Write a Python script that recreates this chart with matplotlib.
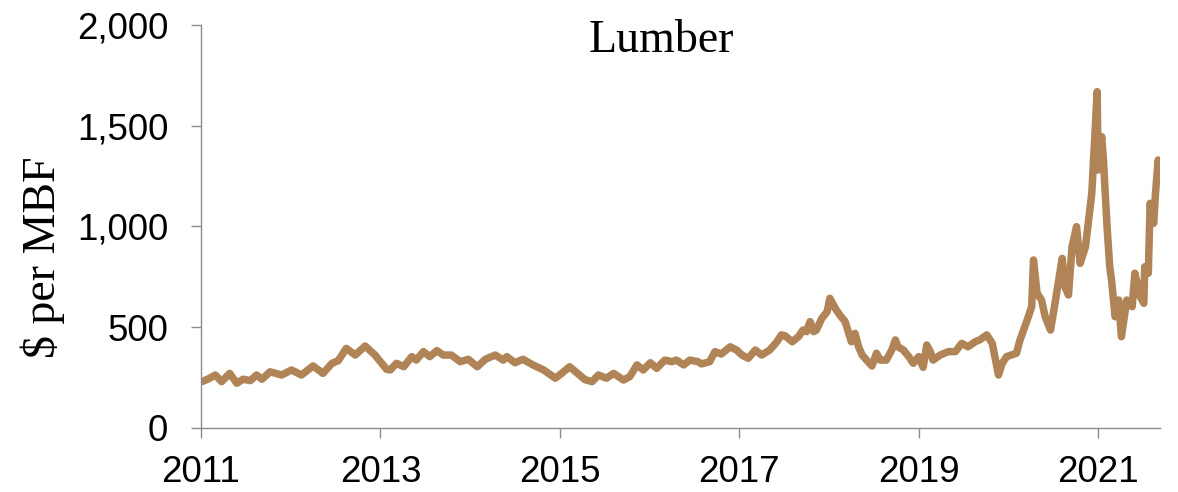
import matplotlib.pyplot as plt
from matplotlib.ticker import FuncFormatter, FixedLocator

# Lumber price, $ per MBF (x in the chart's year units)
years = [
    2011.01, 2011.08, 2011.16, 2011.23, 2011.32, 2011.40, 2011.47, 2011.55, 2011.62, 2011.68,
    2011.77, 2011.90, 2012.01, 2012.12, 2012.25, 2012.36, 2012.46, 2012.53, 2012.62, 2012.72,
    2012.83, 2012.94, 2013.07, 2013.11, 2013.18, 2013.26, 2013.35, 2013.40, 2013.48, 2013.55,
    2013.63, 2013.70, 2013.79, 2013.89, 2013.98, 2014.08, 2014.17, 2014.28, 2014.37, 2014.41,
    2014.50, 2014.59, 2014.70, 2014.82, 2014.95, 2015.02, 2015.11, 2015.19, 2015.28, 2015.36,
    2015.43, 2015.52, 2015.60, 2015.71, 2015.78, 2015.86, 2015.93, 2016.01, 2016.08, 2016.17,
    2016.25, 2016.30, 2016.38, 2016.45, 2016.54, 2016.58, 2016.67, 2016.73, 2016.80, 2016.90,
    2016.97, 2017.03, 2017.10, 2017.18, 2017.25, 2017.34, 2017.42, 2017.47, 2017.51, 2017.59,
    2017.66, 2017.71, 2017.75, 2017.79, 2017.83, 2017.86, 2017.92, 2017.98, 2018.01, 2018.07,
    2018.12, 2018.18, 2018.22, 2018.25, 2018.29, 2018.33, 2018.37, 2018.42, 2018.48, 2018.53,
    2018.57, 2018.64, 2018.70, 2018.74, 2018.77, 2018.83, 2018.89, 2018.94, 2019.00, 2019.05,
    2019.09, 2019.13, 2019.16, 2019.24, 2019.33, 2019.41, 2019.48, 2019.55, 2019.63, 2019.68,
    2019.76, 2019.82, 2019.89, 2019.93, 2019.98, 2020.09, 2020.13, 2020.21, 2020.26, 2020.28,
    2020.32, 2020.37, 2020.41, 2020.47, 2020.52, 2020.60, 2020.63, 2020.67, 2020.71, 2020.76,
    2020.80, 2020.86, 2020.89, 2020.93, 2020.95, 2020.99, 2021.00, 2021.04, 2021.06, 2021.10,
    2021.13, 2021.15, 2021.19, 2021.23, 2021.26, 2021.32, 2021.38, 2021.41, 2021.47, 2021.51,
    2021.52, 2021.56, 2021.58, 2021.62, 2021.64, 2021.67, 2021.69,
]
prices = [
    230, 243, 263, 230, 271, 222, 242, 235, 263, 242,
    279, 263, 288, 263, 308, 271, 321, 334, 395, 362,
    407, 362, 291, 288, 321, 304, 354, 337, 379, 354,
    384, 362, 362, 329, 341, 304, 341, 362, 337, 354,
    324, 341, 313, 288, 247, 271, 304, 274, 240, 230,
    263, 247, 271, 238, 255, 313, 288, 324, 296, 337,
    329, 337, 313, 337, 329, 318, 329, 379, 367, 403,
    387, 362, 346, 387, 362, 387, 428, 462, 458, 428,
    453, 486, 478, 528, 478, 486, 544, 577, 644, 594,
    561, 528, 470, 428, 470, 403, 362, 337, 308, 371,
    337, 337, 387, 437, 403, 387, 354, 321, 354, 301,
    412, 379, 337, 362, 379, 379, 420, 403, 428, 437,
    462, 420, 263, 320, 354, 371, 437, 536, 602, 834,
    668, 635, 552, 486, 619, 842, 701, 660, 900, 999,
    817, 900, 1016, 1165, 1330, 1669, 1280, 1446, 1330, 999,
    800, 734, 552, 635, 453, 635, 602, 768, 652, 619,
    800, 768, 1115, 1016, 1165, 1330, 1280,
]

x_ticks = [2011, 2013, 2015, 2017, 2019, 2021]
y_ticks = [0, 500, 1000, 1500, 2000]

LINE_COLOR = '#B08456'
AXIS_COLOR = '#8C8C8C'

fig = plt.figure(figsize=(11.78, 4.92), dpi=100)
ax = fig.add_axes([0.1706, 0.1301, 0.8141, 0.8191])

ax.plot(years, prices, color=LINE_COLOR, linewidth=5.4,
        solid_joinstyle='round', solid_capstyle='round')

ax.set_xlim(2011, 2021.69)
ax.set_ylim(0, 2000)
ax.xaxis.set_major_locator(FixedLocator(x_ticks))
ax.yaxis.set_major_locator(FixedLocator(y_ticks))
ax.xaxis.set_major_formatter(FuncFormatter(lambda v, _: f'{int(round(v))}'))
ax.yaxis.set_major_formatter(FuncFormatter(lambda v, _: f'{int(v):,}'))

for side in ['top', 'right']:
    ax.spines[side].set_visible(False)
for side in ['left', 'bottom']:
    ax.spines[side].set_color(AXIS_COLOR)
    ax.spines[side].set_linewidth(1.0)

ax.tick_params(axis='both', direction='out', color=AXIS_COLOR, width=1.0,
               length=7.5, labelsize=26.5)
ax.tick_params(axis='y', pad=16)
ax.tick_params(axis='x', pad=12)
for lbl in ax.get_xticklabels() + ax.get_yticklabels():
    lbl.set_fontfamily(['Liberation Sans', 'DejaVu Sans'])

fig.text(0.5617, 0.8937, 'Lumber', ha='center', va='baseline',
         fontsize=33, family=['Liberation Serif', 'DejaVu Serif'])
fig.text(0.036, 0.478, '$ per MBF', rotation=90, ha='center', va='center',
         fontsize=33, family=['Liberation Serif', 'DejaVu Serif'])

fig.savefig('out.png', dpi=100)
